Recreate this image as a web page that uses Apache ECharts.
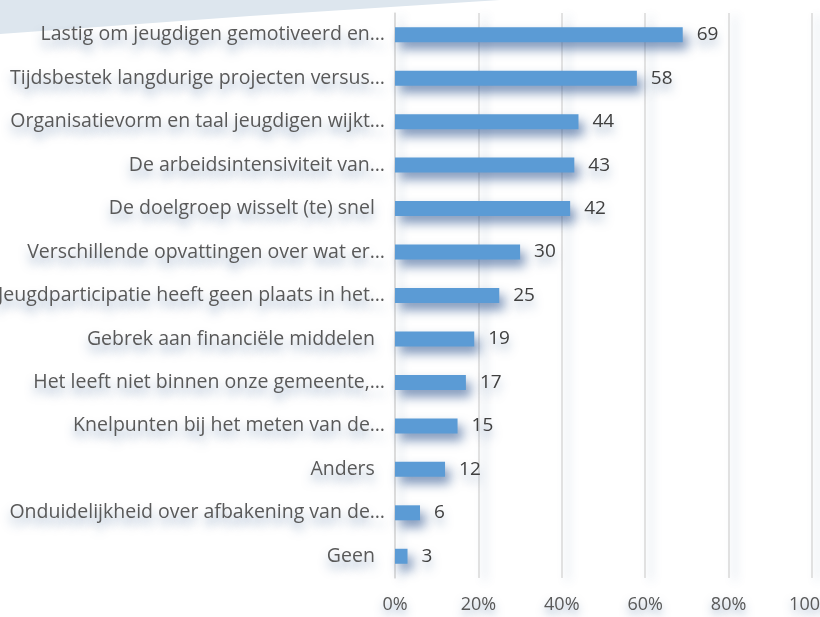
<!DOCTYPE html>
<html>
<head>
<meta charset="utf-8">
<script src="https://cdn.jsdelivr.net/npm/echarts@6/dist/echarts.min.js"></script>
<style>
  html, body { margin: 0; padding: 0; background: #fff; }
  #chart { width: 820px; height: 617px; }
</style>
</head>
<body>
<div id="chart"></div>
<script>
// categories, top to bottom
const categories = [
  'Lastig om jeugdigen gemotiveerd en…',
  'Tijdsbestek langdurige projecten versus…',
  'Organisatievorm en taal jeugdigen wijkt…',
  'De arbeidsintensiviteit van…',
  'De doelgroep wisselt (te) snel  ',
  'Verschillende opvattingen over wat er…',
  'Jeugdparticipatie heeft geen plaats in het…',
  'Gebrek aan financiële middelen  ',
  'Het leeft niet binnen onze gemeente,…',
  'Knelpunten bij het meten van de…',
  'Anders  ',
  'Onduidelijkheid over afbakening van de…',
  'Geen  '
]
// percentages
const values = [69, 58, 44, 43, 42, 30, 25, 19, 17, 15, 12, 6, 3]
const xTicks = [0, 20, 40, 60, 80, 100]

const textColor = '#595959'
const shadow = 'rgba(60, 100, 150, 0.5)'

const myChart = echarts.init(document.getElementById('chart'))
const option = {
  animation: false,
  textStyle: { fontFamily: 'Open Sans' },
  graphic: [
    {
      type: 'polygon',
      z: -10,
      shape: { points: [[0, 0], [500, 0], [250, 16], [0, 34]] },
      style: { fill: '#dde6ee' }
    }
  ],
  grid: { left: 395, right: 8, top: 13, bottom: 39, containLabel: false, outerBoundsMode: 'none' },
  xAxis: {
    type: 'value',
    min: 0,
    max: 100,
    interval: 20,
    axisLine: { show: false },
    axisTick: { show: false },
    axisLabel: {
      color: textColor,
      fontSize: 18,
      margin: 18,
      hideOverlap: false,
      formatter: v => xTicks.includes(v) ? v + '%' : '',
      textShadowColor: shadow,
      textShadowBlur: 8,
      textShadowOffsetY: 5
    },
    splitLine: {
      lineStyle: {
        color: '#d9d9d9',
        width: 1.5,
        shadowColor: 'rgba(60, 100, 150, 0.35)',
        shadowBlur: 10,
        shadowOffsetX: 6,
        shadowOffsetY: 3
      }
    }
  },
  yAxis: {
    type: 'category',
    inverse: true,
    data: categories,
    axisLine: { show: true, lineStyle: { color: '#d9d9d9', width: 1.5 } },
    axisTick: { show: false },
    axisLabel: {
      color: textColor,
      fontSize: 19.5,
      margin: 10,
      hideOverlap: false,
      textShadowColor: shadow,
      textShadowBlur: 10,
      textShadowOffsetY: 7
    }
  },
  series: [
    {
      type: 'bar',
      data: values,
      barWidth: 15,
      itemStyle: {
        color: '#5b9bd5',
        shadowColor: 'rgba(40, 80, 140, 0.6)',
        shadowBlur: 11,
        shadowOffsetX: 5,
        shadowOffsetY: 7
      },
      label: {
        show: true,
        position: 'right',
        distance: 14,
        color: '#404040',
        fontSize: 19,
        textShadowColor: shadow,
        textShadowBlur: 10,
        textShadowOffsetY: 7
      }
    }
  ]
}
myChart.setOption(option)
</script>
</body>
</html>
